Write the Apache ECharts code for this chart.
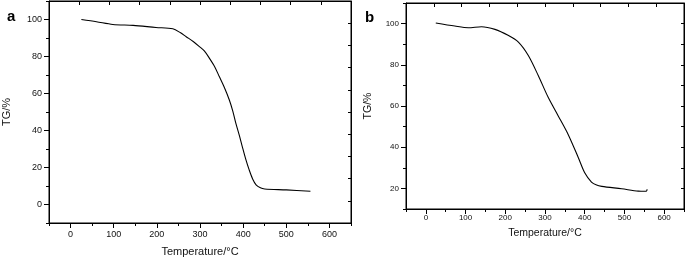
<!DOCTYPE html>
<html>
<head>
<meta charset="utf-8">
<script src="https://cdn.jsdelivr.net/npm/echarts@6/dist/echarts.min.js"></script>
<style>
  html, body { margin: 0; padding: 0; background: #fff; }
  #chart { width: 685px; height: 260px; }
</style>
</head>
<body>
<div id="chart"></div>
<script>
// panel a data (temperature / TG%)
const tempA = [25, 60, 98, 145, 198, 237, 255, 268, 285, 298, 310, 322, 334, 345, 356, 368, 376, 383, 391, 398, 406, 414, 422, 430, 440, 450, 500, 556];
const tgA   = [100, 98.8, 97.3, 96.8, 95.7, 95.0, 92.8, 90.7, 88.0, 85.5, 83.0, 79.0, 74.5, 69.0, 63.5, 56.5, 50.5, 44.0, 37.5, 31.3, 24.5, 18.7, 13.8, 10.6, 9.0, 8.4, 7.9, 7.2];
// panel b data
const tempB = [25, 73, 107, 140, 174, 207, 233, 258, 283, 308, 333, 358, 384, 400, 417, 430, 443, 493, 535, 552, 556, 557];
const tgB   = [100.3, 98.8, 98.0, 98.5, 97.2, 94.3, 91.0, 84.5, 74.8, 64.2, 55.3, 46.3, 34.9, 27.6, 23.1, 21.6, 21.0, 19.8, 18.7, 18.6, 18.8, 19.6];

// tick values
const xMajor = [0, 100, 200, 300, 400, 500, 600];
const xMinor = [-50, 50, 150, 250, 350, 450, 550, 650];
const yMajorA = [0, 20, 40, 60, 80, 100];
const yMinorA = [-10, 10, 30, 50, 70, 90, 110];
const yMajorB = [20, 40, 60, 80, 100];
const yMinorB = [10, 30, 50, 70, 90, 110];

const ink = '#111';

// main axis with labels and long ticks
function mainAxis (grid, pos, min, max, majors, fontSize, margin, name, nameGap, nameSize) {
  return {
    type: 'value', gridIndex: grid, position: pos, min: min, max: max,
    axisLine: { show: true, onZero: false, lineStyle: { color: '#000', width: 1 } },
    axisTick: { show: true, customValues: majors, length: 5, lineStyle: { color: '#000' } },
    axisLabel: { customValues: majors, fontSize: fontSize, color: ink, margin: margin, fontFamily: 'Liberation Sans' },
    splitLine: { show: false },
    name: name, nameLocation: 'middle', nameGap: nameGap,
    nameTextStyle: { fontSize: nameSize, color: ink, fontFamily: 'Liberation Sans' }
  }
}

// overlay axis only for the short ticks
function minorAxis (grid, pos, min, max, minors) {
  return {
    type: 'value', gridIndex: grid, position: pos, min: min, max: max,
    axisLine: { show: false, onZero: false },
    axisTick: { show: true, customValues: minors, length: 3, lineStyle: { color: '#000' } },
    axisLabel: { show: false },
    splitLine: { show: false }
  }
}

// top / right border with 10 inward ticks
function borderAxis (grid, pos, len) {
  return {
    type: 'value', gridIndex: grid, position: pos, min: 0, max: 10, interval: 1,
    axisLine: { show: true, onZero: false, lineStyle: { color: '#000', width: 1 } },
    axisTick: { show: true, inside: true, length: len, lineStyle: { color: '#000' } },
    axisLabel: { show: false },
    splitLine: { show: false }
  }
}

const myChart = echarts.init(document.getElementById('chart'), null, { renderer: 'canvas' });
myChart.setOption({
  animation: false,
  backgroundColor: '#fff',
  grid: [
    { left: 49, top: 1, width: 302, height: 222, outerBoundsMode: 'none', show: true, borderColor: '#000', borderWidth: 1, backgroundColor: 'transparent' },
    { left: 406, top: 3, width: 278, height: 206, outerBoundsMode: 'none', show: true, borderColor: '#000', borderWidth: 1, backgroundColor: 'transparent' }
  ],
  xAxis: [
    mainAxis(0, 'bottom', -50, 650, xMajor, 9, 7, 'Temperature/\u00b0C', 23, 11),
    minorAxis(0, 'bottom', -50, 650, xMinor),
    borderAxis(0, 'top', 4),
    mainAxis(1, 'bottom', -50, 650, xMajor, 8, 5, 'Temperature/\u00b0C', 19, 10.5),
    minorAxis(1, 'bottom', -50, 650, xMinor),
    borderAxis(1, 'top', 4)
  ],
  yAxis: [
    mainAxis(0, 'left', -10, 110, yMajorA, 9, 7, 'TG/%', 37, 11),
    minorAxis(0, 'left', -10, 110, yMinorA),
    borderAxis(0, 'right', 3),
    mainAxis(1, 'left', 10, 110, yMajorB, 8, 7, 'TG/%', 32, 10.5),
    minorAxis(1, 'left', 10, 110, yMinorB),
    borderAxis(1, 'right', 3)
  ],
  graphic: [
    { type: 'text', left: 7, top: 9, style: { text: 'a', font: 'bold 15px Liberation Sans', fill: '#000' } },
    { type: 'text', left: 365, top: 10, style: { text: 'b', font: 'bold 15px Liberation Sans', fill: '#000' } }
  ],
  series: [
    {
      type: 'line', xAxisIndex: 0, yAxisIndex: 0, showSymbol: false, smooth: 0.3,
      lineStyle: { color: '#000', width: 1.1 },
      data: tempA.map((t, i) => [t, tgA[i]])
    },
    {
      type: 'line', xAxisIndex: 3, yAxisIndex: 3, showSymbol: false, smooth: 0.3,
      lineStyle: { color: '#000', width: 1.1 },
      data: tempB.map((t, i) => [t, tgB[i]])
    }
  ]
});
</script>
</body>
</html>
